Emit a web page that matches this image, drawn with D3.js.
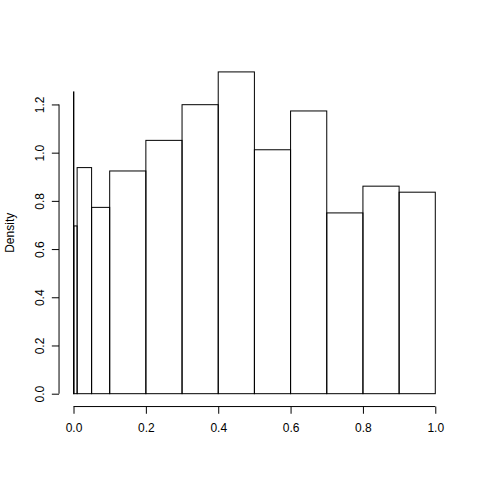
<!DOCTYPE html>
<html>
<head>
<meta charset="utf-8">
<script src="https://cdn.jsdelivr.net/npm/d3@7"></script>
<style>
  html, body { margin: 0; padding: 0; background: #fff; }
  svg text { font-family: "Liberation Sans", Arial, Helvetica, sans-serif; font-size: 12px; fill: #000; }
</style>
</head>
<body>
<div id="chart"></div>
<script>
// histogram breaks and densities (unequal bins)
var breaks = [0, 0.001, 0.01, 0.05, 0.1, 0.2, 0.3, 0.4, 0.5, 0.6, 0.7, 0.8, 0.9, 1.0];
var density = [1.252, 0.696, 0.938, 0.773, 0.924, 1.051, 1.199, 1.335, 1.012, 1.173, 0.750, 0.861, 0.836];
var xTicks = [0, 0.2, 0.4, 0.6, 0.8, 1.0];
var yTicks = [0, 0.2, 0.4, 0.6, 0.8, 1.0, 1.2];
var yLabel = 'Density';

var W = 480, H = 480;
var lineH = 14.4; // one margin line in R at 72 dpi
var margin = {top: 4.1 * lineH, right: 2.1 * lineH, bottom: 5.1 * lineH, left: 4.1 * lineH};

var bins = density.map(function(d, i) {
    return {x0: breaks[i], x1: breaks[i + 1], y: d};
});

var xMin = d3.min(breaks), xMax = d3.max(breaks);
var yMax = d3.max(density);

// R style 4% padding on each side
var x = d3.scaleLinear()
    .domain([xMin - 0.04 * (xMax - xMin), xMax + 0.04 * (xMax - xMin)])
    .range([margin.left, W - margin.right]);

var y = d3.scaleLinear()
    .domain([-0.04 * yMax, 1.04 * yMax])
    .range([H - margin.bottom, margin.top]);

var svg = d3.select('#chart').append('svg')
    .attr('width', W)
    .attr('height', H);

svg.append('rect').attr('width', W).attr('height', H).attr('fill', '#fff');

svg.append('g')
    .selectAll('rect')
    .data(bins)
    .enter().append('rect')
        .attr('x', function(d) { return x(d.x0); })
        .attr('y', function(d) { return y(d.y); })
        .attr('width', function(d) { return x(d.x1) - x(d.x0); })
        .attr('height', function(d) { return y(0) - y(d.y); })
        .attr('fill', 'none')
        .attr('stroke', '#000')
        .attr('stroke-width', 1);

// x axis
var xAxis = svg.append('g')
    .attr('transform', 'translate(0,' + (H - margin.bottom) + ')')
    .call(d3.axisBottom(x).tickValues(xTicks).tickSize(7.2).tickSizeOuter(0)
        .tickFormat(d3.format('.1f')));
xAxis.select('.domain').remove();
xAxis.append('line')
    .attr('x1', x(xTicks[0])).attr('x2', x(xTicks[xTicks.length - 1]))
    .attr('stroke', '#000');
xAxis.selectAll('.tick line').attr('stroke', '#000');
xAxis.selectAll('.tick text')
    .attr('y', 25)
    .attr('dy', null)
    .style('font-size', '12px')
    .style('font-family', '"Liberation Sans", Arial, Helvetica, sans-serif');

// y axis
var yAxis = svg.append('g')
    .attr('transform', 'translate(' + margin.left + ',0)')
    .call(d3.axisLeft(y).tickValues(yTicks).tickSize(7.2).tickSizeOuter(0)
        .tickFormat(d3.format('.1f')));
yAxis.select('.domain').remove();
yAxis.append('line')
    .attr('y1', y(yTicks[0])).attr('y2', y(yTicks[yTicks.length - 1]))
    .attr('stroke', '#000');
yAxis.selectAll('.tick line').attr('stroke', '#000');
yAxis.selectAll('.tick text')
    .attr('x', null)
    .attr('dy', null)
    .attr('transform', 'translate(' + (-lineH - 1) + ',0) rotate(-90)')
    .attr('text-anchor', 'middle')
    .style('font-size', '12px')
    .style('font-family', '"Liberation Sans", Arial, Helvetica, sans-serif');

svg.append('text')
    .attr('transform', 'translate(' + (margin.left - 3 * lineH - 1.5) + ',' + ((margin.top + H - margin.bottom) / 2) + ') rotate(-90)')
    .attr('text-anchor', 'middle')
    .text(yLabel);
</script>
</body>
</html>
